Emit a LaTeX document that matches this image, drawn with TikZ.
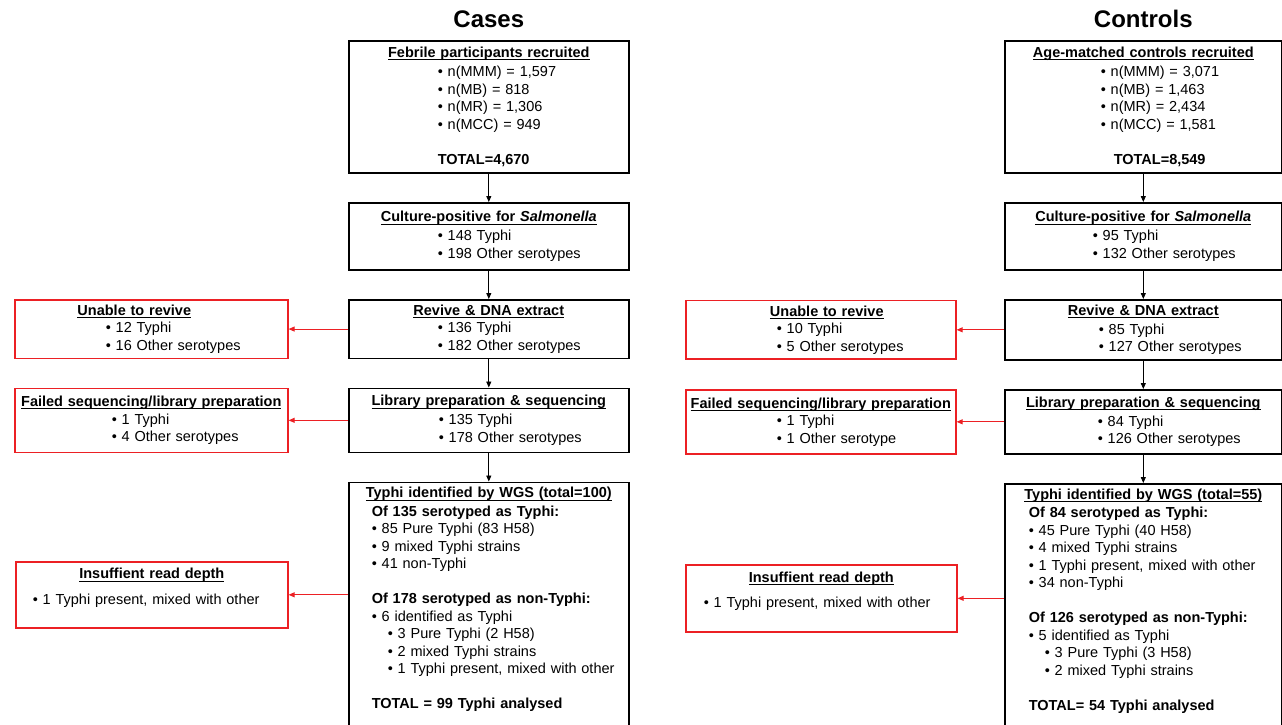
\documentclass[tikz,border=0pt]{standalone}
\usepackage{fontspec}
\setmainfont{Liberation Sans}
\usepackage{xcolor}
\definecolor{lossred}{RGB}{236,32,36}
\usetikzlibrary{arrows.meta,positioning}
\setlength{\parindent}{0pt}
\newcommand{\bodyfont}{\fontsize{14.5}{17.5}\selectfont}
\newcommand{\ind}[1]{\hspace*{#1pt}}
\newcommand{\boxhead}[2][0]{\hspace*{#1pt}\makebox[\hsize][c]{\setbox0\hbox{\textbf{#2}}\rlap{\rule[-2.8pt]{\wd0}{1pt}}\box0}}
\tikzset{
  stagebox/.style={draw, line width=1.6pt, inner xsep=0pt, inner ysep=5pt,
    text width=#1, minimum width=#1, align=left, font=\bodyfont},
  stagebox/.default=280pt,
  lossbox/.style={draw=lossred, line width=1.6pt, inner xsep=0pt, inner ysep=5pt,
    text width=#1, minimum width=#1, align=left, font=\bodyfont},
  lossbox/.default=273pt,
  headtext/.style={font=\fontsize{24}{28}\selectfont\bfseries, inner sep=3pt},
  flowarr/.style={-{Triangle[length=6pt,width=5pt]}, line width=0.9pt},
  lossarr/.style={flowarr, draw=lossred},
}

\begin{document}
\begin{tikzpicture}[x=1pt, y=-1pt]
  \useasboundingbox[fill=white] (0,0) rectangle (1282,724);

  % Cases column
  \node[stagebox, minimum height=132pt, anchor=north west] (recC) at (348,40) {%
    \boxhead{Febrile participants recruited}\\[1.5pt]
    \ind{89}• n(MMM) = 1,597\\
    \ind{89}• n(MB) = 818\\
    \ind{89}• n(MR) = 1,306\\
    \ind{89}• n(MCC) = 949\\[17.5pt]
    \ind{89}\textbf{TOTAL=4,670}};
  \node[headtext, above=9pt of recC] (casesT) {Cases};
  \node[stagebox, minimum height=67pt, below=28.4pt of recC] (cultC) {%
    \boxhead{Culture-positive for \textit{Salmonella}}\\[1.5pt]
    \ind{89}• 148 Typhi\\
    \ind{89}• 198 Other serotypes};
  \node[stagebox, minimum height=58pt, below=28.4pt of cultC] (revC) {%
    \boxhead{Revive \& DNA extract}\\
    \ind{89}• 136 Typhi\\
    \ind{89}• 182 Other serotypes};
  \node[stagebox, minimum height=64pt, below=28.4pt of revC] (libC) {%
    \boxhead{Library preparation \& sequencing}\\[1.5pt]
    \ind{90}• 135 Typhi\\
    \ind{90}• 178 Other serotypes};
  \node[stagebox, below=28.4pt of libC] (wgsC) {%
    \boxhead{Typhi identified by WGS (total=100)}\\[1pt]
    \ind{23}\textbf{Of 135 serotyped as Typhi:}\\
    \ind{23}• 85 Pure Typhi (83 H58)\\
    \ind{23}• 9 mixed Typhi strains\\
    \ind{23}• 41 non-Typhi\\[17.5pt]
    \ind{23}\textbf{Of 178 serotyped as non-Typhi:}\\
    \ind{23}• 6 identified as Typhi\\
    \ind{39}• 3 Pure Typhi (2 H58)\\
    \ind{39}• 2 mixed Typhi strains\\
    \ind{39}• 1 Typhi present, mixed with other\\[17.5pt]
    \ind{23}\textbf{TOTAL = 99 Typhi analysed}\rule[-30pt]{0pt}{30pt}};

  % Cases losses
  \node[lossbox, minimum height=58pt, left=59.4pt of revC] (unC) {%
    \boxhead[-17]{Unable to revive}\\
    \ind{91}• 12 Typhi\\
    \ind{91}• 16 Other serotypes};
  \node[lossbox, minimum height=64pt, left=59.4pt of libC] (failC) {%
    \boxhead{Failed sequencing/library preparation}\\
    \ind{97}• 1 Typhi\\
    \ind{97}• 4 Other serotypes};
  \node[lossbox=272pt, minimum height=66pt, anchor=north west] (insC) at (15,561) {%
    \boxhead{Insuffient read depth}\\[8pt]
    \ind{17}• 1 Typhi present, mixed with other\rule[-17pt]{0pt}{17pt}};

  \foreach \a/\b in {recC/cultC, cultC/revC, revC/libC, libC/wgsC}
    \draw[flowarr] (\a) -- (\b);
  \draw[lossarr] (revC) -- (unC);
  \draw[lossarr] (libC) -- (failC);
  \draw[lossarr] (wgsC.west |- insC) -- (insC);

  % Controls column
  \node[stagebox=277pt, minimum height=132pt, anchor=north west] (recK) at (1004,40) {%
    \boxhead{Age-matched controls recruited}\\[1.5pt]
    \ind{96}• n(MMM) = 3,071\\
    \ind{96}• n(MB) = 1,463\\
    \ind{96}• n(MR) = 2,434\\
    \ind{96}• n(MCC) = 1,581\\[17.5pt]
    \ind{109}\textbf{TOTAL=8,549}};
  \node[headtext, above=9pt of recK] (controlsT) {Controls};
  \node[stagebox=277pt, minimum height=67pt, below=28.4pt of recK] (cultK) {%
    \boxhead{Culture-positive for \textit{Salmonella}}\\[1.5pt]
    \ind{88}• 95 Typhi\\
    \ind{88}• 132 Other serotypes};
  \node[stagebox=277pt, minimum height=58pt, below=28.4pt of cultK] (revK) {%
    \boxhead{Revive \& DNA extract}\\[1.5pt]
    \ind{94}• 85 Typhi\\
    \ind{94}• 127 Other serotypes};
  \node[stagebox=277pt, minimum height=64pt, below=28.4pt of revK] (libK) {%
    \boxhead{Library preparation \& sequencing}\\[1.5pt]
    \ind{93}• 84 Typhi\\
    \ind{93}• 126 Other serotypes};
  \node[stagebox=277pt, below=28.4pt of libK] (wgsK) {%
    \boxhead{Typhi identified by WGS (total=55)}\\[1pt]
    \ind{24}\textbf{Of 84 serotyped as Typhi:}\\
    \ind{24}• 45 Pure Typhi (40 H58)\\
    \ind{24}• 4 mixed Typhi strains\\
    \ind{24}• 1 Typhi present, mixed with other\\
    \ind{24}• 34 non-Typhi\\[17.5pt]
    \ind{24}\textbf{Of 126 serotyped as non-Typhi:}\\
    \ind{24}• 5 identified as Typhi\\
    \ind{40}• 3 Pure Typhi (3 H58)\\
    \ind{40}• 2 mixed Typhi strains\\[17.5pt]
    \ind{24}\textbf{TOTAL= 54 Typhi analysed}\rule[-30pt]{0pt}{30pt}};

  % Controls losses
  \node[lossbox=270pt, minimum height=58pt, left=47.4pt of revK] (unK) {%
    \boxhead[6]{Unable to revive}\\
    \ind{91}• 10 Typhi\\
    \ind{91}• 5 Other serotypes};
  \node[lossbox=270pt, minimum height=64pt, left=47.4pt of libK] (failK) {%
    \boxhead{Failed sequencing/library preparation}\\
    \ind{91}• 1 Typhi\\
    \ind{91}• 1 Other serotype};
  \node[lossbox=271pt, minimum height=67pt, anchor=north west] (insK) at (685,564) {%
    \boxhead{Insuffient read depth}\\[8pt]
    \ind{18}• 1 Typhi present, mixed with other\rule[-17pt]{0pt}{17pt}};

  \foreach \a/\b in {recK/cultK, cultK/revK, revK/libK, libK/wgsK}
    \draw[flowarr] (\a) -- (\b);
  \draw[lossarr] (revK) -- (unK);
  \draw[lossarr] (libK) -- (failK);
  \draw[lossarr] (wgsK.west |- insK) -- (insK);
\end{tikzpicture}
\end{document}
